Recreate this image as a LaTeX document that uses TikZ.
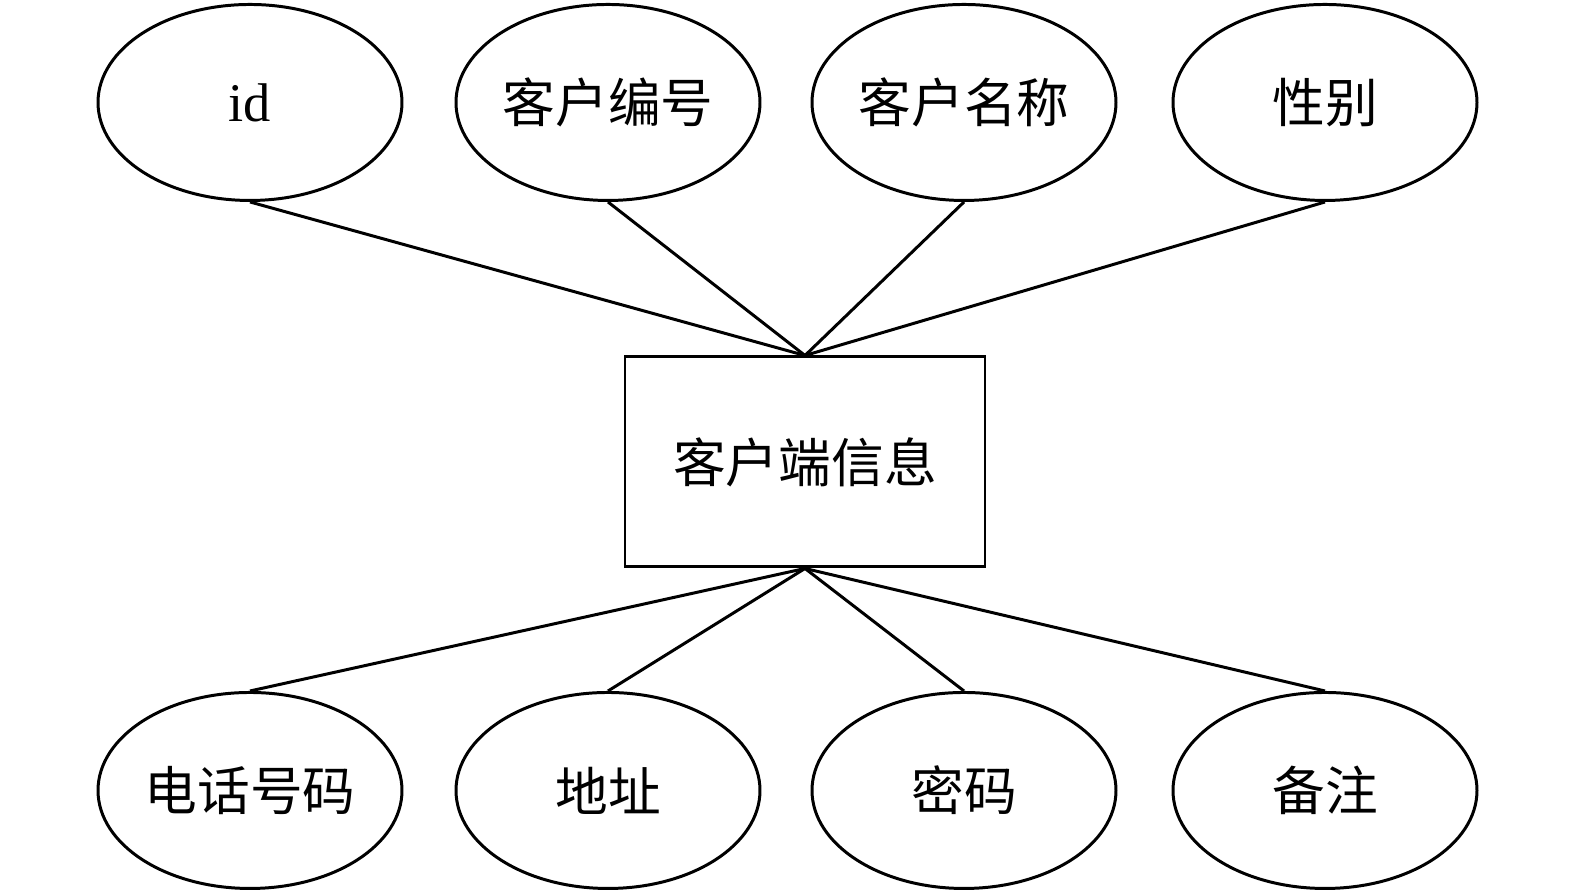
\documentclass[tikz,border=0pt]{standalone}
\usepackage{fontspec}
\setmainfont{Liberation Serif}
\newfontfamily\cjk{Noto Sans CJK SC}
\usetikzlibrary{shapes.geometric}

\tikzset{
  Attr/.style={draw,ellipse,line width=0.85pt,minimum width=3.04cm,minimum height=1.96cm,inner sep=0pt,font=\fontsize{15}{18}\selectfont\cjk},
  Ent/.style={draw,rectangle,line width=0.85pt,minimum width=3.6cm,minimum height=2.1cm,inner sep=0pt,font=\fontsize{15}{18}\selectfont\cjk},
  Lnk/.style={line width=0.85pt,color=black}
}

\begin{document}
\begin{tikzpicture}
\useasboundingbox (0,0) rectangle (15.75,8.96);

\node[Ent] (C) at (8.05,4.34) {客户端信息};

\node[Attr,font=\fontsize{15.5}{18}\selectfont] (T1) at (2.50,7.935) {id};
\node[Attr] (T2) at (6.08,7.935) {客户编号};
\node[Attr] (T3) at (9.64,7.935) {客户名称};
\node[Attr] (T4) at (13.25,7.935) {性别};

\node[Attr] (B1) at (2.50,1.055) {电话号码};
\node[Attr] (B2) at (6.08,1.055) {地址};
\node[Attr] (B3) at (9.64,1.055) {密码};
\node[Attr] (B4) at (13.25,1.055) {备注};

\foreach \i in {1,...,4}{
  \draw[Lnk] (T\i.south) -- (C.north);
  \draw[Lnk] (B\i.north) -- (C.south);
}

\end{tikzpicture}
\end{document}
